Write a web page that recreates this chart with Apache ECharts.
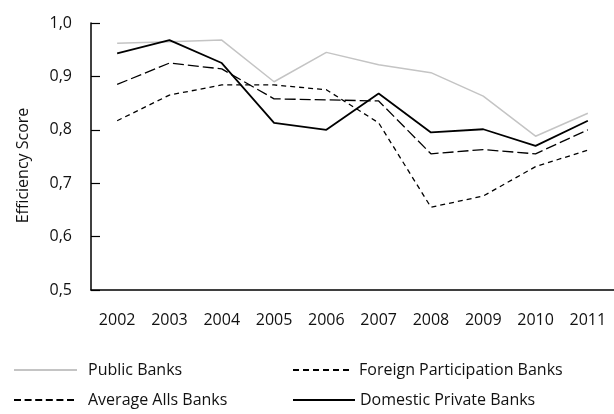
<!DOCTYPE html>
<html><head><meta charset="utf-8">
<script src="https://cdn.jsdelivr.net/npm/echarts@6/dist/echarts.min.js"></script>
<style>html,body{margin:0;padding:0;background:#fff}#c{width:614px;height:414px}</style>
</head><body><div id="c"></div>
<script>
const years = ['2002','2003','2004','2005','2006','2007','2008','2009','2010','2011'];
const publicBanks   = [0.962,0.965,0.968,0.890,0.945,0.922,0.907,0.863,0.788,0.831];
const foreignBanks  = [0.817,0.865,0.884,0.884,0.875,0.813,0.655,0.676,0.731,0.762];
const averageBanks  = [0.885,0.925,0.914,0.858,0.856,0.854,0.755,0.763,0.755,0.800];
const domesticBanks = [0.943,0.968,0.925,0.813,0.800,0.868,0.795,0.801,0.770,0.817];

const font = '"Open Sans", sans-serif';
const chart = echarts.init(document.getElementById('c'));
function ser(name, data, color, width, type) {
  return { name, type:'line', data, symbol:'none', animation:false,
    lineStyle:{ color, width, type }, itemStyle:{ color } };
}
function leg(name, left, top, w, pad, lineType) {
  const l = { data:[name], left, top, padding:0, itemWidth:w, itemHeight:12, itemGap:0,
    itemStyle:{ opacity:0 },
    textStyle:{ fontSize:16, color:'#111', fontFamily:font, padding:[0,0,0,pad] } };
  if (lineType) l.lineStyle = { type: lineType };
  return l;
}
chart.setOption({
  animation:false,
  textStyle:{ fontFamily: font },
  grid:{ left:91, top:23, width:527, bottom:124 },
  xAxis:{ type:'category', data:years, boundaryGap:true,
    axisLine:{ lineStyle:{ color:'#000', width:1.5 } },
    axisTick:{ inside:true, length:9, lineStyle:{ color:'#000', width:1.2 } },
    axisLabel:{ color:'#111', fontSize:16, fontFamily:font, margin:22 } },
  yAxis:{ type:'value', min:0.5, max:1.0, interval:0.1,
    name:'Efficiency Score', nameLocation:'middle', nameGap:60,
    nameTextStyle:{ color:'#111', fontSize:16, fontFamily:font, padding:[0,18,0,0] },
    axisLine:{ show:true, lineStyle:{ color:'#000', width:1.5 } },
    axisTick:{ show:true, inside:true, length:9, lineStyle:{ color:'#000', width:1.2 } },
    splitLine:{ show:false },
    axisLabel:{ color:'#111', fontSize:16, fontFamily:font, margin:19,
      formatter: v => v.toFixed(1).replace('.', ',') } },
  legend:[
    leg('Public Banks', 13, 362, 63, 6),
    leg('Average Alls Banks', 13, 392, 63, 6, [7,3.6]),
    leg('Foreign Participation Banks', 292, 362, 58, 3, [6,4]),
    leg('Domestic Private Banks', 292, 392, 62, 0)
  ],
  series:[
    ser('Public Banks', publicBanks, '#c4c4c4', 1.5, 'solid'),
    ser('Foreign Participation Banks', foreignBanks, '#000', 1.3, [5,4]),
    ser('Average Alls Banks', averageBanks, '#000', 1.3, [11,4]),
    ser('Domestic Private Banks', domesticBanks, '#000', 1.8, 'solid')
  ]
});
</script></body></html>
